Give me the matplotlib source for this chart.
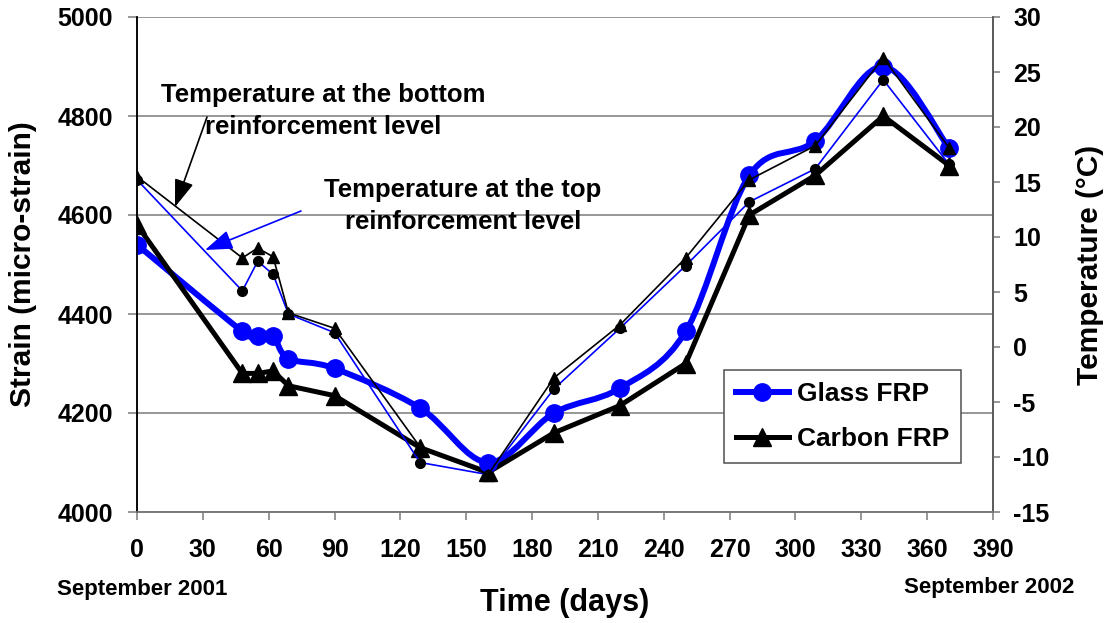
import matplotlib
matplotlib.use("Agg")
import matplotlib.pyplot as plt
from matplotlib.path import Path
from matplotlib.patches import PathPatch
from matplotlib.lines import Line2D
import numpy as np

plt.rcParams['font.family'] = ['Liberation Sans', 'DejaVu Sans']
plt.rcParams['font.weight'] = 'bold'
plt.rcParams['axes.unicode_minus'] = False

# ---- data ----
days = [0, 48, 55, 62, 69, 90, 129, 160, 190, 220, 250, 279, 309, 340, 370]
glass_frp = [4540, 4365, 4355, 4355, 4310, 4290, 4210, 4100, 4200, 4250, 4365, 4680, 4750, 4900, 4735]
carbon_frp = [4580, 4280, 4280, 4285, 4255, 4235, 4130, 4080, 4160, 4215, 4300, 4600, 4680, 4800, 4700]
temp_top = [15.2, 5.1, 7.8, 6.6, 3.0, 1.3, -10.5, -11.6, -3.8, 1.7, 7.4, 13.2, 16.2, 24.3, 16.6]
temp_bottom = [15.5, 8.1, 9.0, 8.2, 3.1, 1.7, -9.1, -11.6, -2.8, 2.0, 8.1, 15.2, 18.3, 26.3, 18.1]
x_ticks = list(range(0, 391, 30))
strain_ticks = [4000, 4200, 4400, 4600, 4800, 5000]
temp_ticks = list(range(-15, 31, 5))

W, H = 1111, 623
fig = plt.figure(figsize=(W / 100, H / 100), dpi=100)
L, R, T, B = 137, 993, 17, 512
ax = fig.add_axes([L / W, 1 - B / H, (R - L) / W, (B - T) / H])
ax2 = ax.twinx()

grid_c = '#7a7a7a'

# smoothed (Excel-like) path for Glass FRP
def smooth_path(xs, ys):
    xs = np.asarray(xs, float); ys = np.asarray(ys, float)
    n = len(xs)
    verts = [(xs[0], ys[0])]
    codes = [Path.MOVETO]
    for i in range(n - 1):
        p0 = np.array([xs[max(i - 1, 0)], ys[max(i - 1, 0)]])
        p1 = np.array([xs[i], ys[i]])
        p2 = np.array([xs[i + 1], ys[i + 1]])
        p3 = np.array([xs[min(i + 2, n - 1)], ys[min(i + 2, n - 1)]])
        c1 = p1 + (p2 - p0) / 6.0
        c2 = p2 - (p3 - p1) / 6.0
        verts += [tuple(c1), tuple(c2), tuple(p2)]
        codes += [Path.CURVE4] * 3
    return Path(verts, codes)

ax.add_patch(PathPatch(smooth_path(days, glass_frp), facecolor='none',
                       edgecolor='#0000ff', lw=4.3, zorder=3, capstyle='round', joinstyle='round'))
ax.plot(days, glass_frp, linestyle='none', marker='o', ms=12.5, color='#0000ff', zorder=4)
ax.plot(days, carbon_frp, color='black', lw=3.6, marker='^', ms=12.5, zorder=3)

ax2.plot(days, temp_top, color='#0000ff', lw=1.2, marker='o', ms=7, mfc='black', mec='black', zorder=3)
ax2.plot(days, temp_bottom, color='black', lw=1.2, marker='^', ms=8, zorder=3)

ax.set_xlim(0, 390)
ax.set_ylim(4000, 5000)
ax2.set_ylim(-15, 30)
ax.set_xticks(x_ticks)
ax.set_yticks(strain_ticks)
ax2.set_yticks(temp_ticks)

ax.set_axisbelow(True)
ax.yaxis.grid(True, color=grid_c, lw=1.1)
for a in (ax, ax2):
    a.spines['top'].set_visible(False)
    a.spines['bottom'].set_color(grid_c)
    a.spines['bottom'].set_linewidth(1.2)
    a.spines['right'].set_color('#555555')
    a.spines['right'].set_linewidth(1.1)
    a.spines['left'].set_color('black')
    a.spines['left'].set_linewidth(1.1)
    a.patch.set_visible(False)

ax.tick_params(axis='x', direction='out', length=6, width=1.1, color=grid_c, pad=13, labelsize=18)
ax.tick_params(axis='y', direction='out', length=6.5, width=1.1, color=grid_c, pad=11, labelsize=18)
ax2.tick_params(axis='y', direction='out', length=5, width=1.1, color=grid_c, pad=9.5, labelsize=18)
for lab in ax.get_xticklabels() + ax.get_yticklabels() + ax2.get_yticklabels():
    lab.set_fontweight('bold')

ax.set_ylabel('Strain (micro-strain)', fontsize=21.5, fontweight='bold')
ax.yaxis.label.set(ha='center', va='center')
ax.yaxis.set_label_coords((23 - L) / (R - L), 0.5)
ax2.set_ylabel('Temperature (°C)', fontsize=21.5, fontweight='bold', rotation=90)
ax2.yaxis.label.set(ha='center', va='center')
ax2.yaxis.set_label_coords((1090 - L) / (R - L), 0.5)
ax.set_xlabel('Time (days)', fontsize=22, fontweight='bold')
ax.xaxis.label.set(va='center')
ax.xaxis.set_label_coords(0.5, (B - 603) / (B - T))

def px(x, y):
    return (x / W, 1 - y / H)

fig.text(*px(142, 590), 'September 2001', ha='center', va='center', fontsize=16, fontweight='bold')
fig.text(*px(989, 588), 'September 2002', ha='center', va='center', fontsize=16, fontweight='bold')

fig.text(*px(323, 111), 'Temperature at the bottom\nreinforcement level', ha='center', va='center',
         fontsize=18.5, fontweight='bold', linespacing=1.4, multialignment='center')
fig.text(*px(463, 206), 'Temperature at the top\nreinforcement level', ha='center', va='center',
         fontsize=18.5, fontweight='bold', linespacing=1.4, multialignment='center')

# arrows (figure pixel coordinates)
ax2.annotate('', xy=px(175, 207), xytext=px(207, 117), xycoords='figure fraction',
             textcoords='figure fraction',
             arrowprops=dict(arrowstyle='-|>,head_length=0.85,head_width=0.3', color='black',
                             lw=1.2, mutation_scale=20, shrinkA=0, shrinkB=0))
ax2.annotate('', xy=px(205, 250), xytext=px(301, 211), xycoords='figure fraction',
             textcoords='figure fraction',
             arrowprops=dict(arrowstyle='-|>,head_length=0.85,head_width=0.3', color='#0000ff',
                             lw=1.2, mutation_scale=20, shrinkA=0, shrinkB=0))

handles = [Line2D([], [], color='#0000ff', lw=4.3, marker='o', ms=12.5),
           Line2D([], [], color='black', lw=3.6, marker='^', ms=12.5)]
leg = ax2.legend(handles, ['Glass FRP', 'Carbon FRP'], loc='upper left',
                 bbox_to_anchor=px(724, 370), bbox_transform=fig.transFigure,
                 borderaxespad=0, fancybox=False, framealpha=1, edgecolor='#505050',
                 numpoints=1, handlelength=2.0, handletextpad=0.3, labelspacing=0.8,
                 borderpad=0.45, prop={'size': 19, 'weight': 'bold'})
leg.get_frame().set_linewidth(1.1)
leg.set_zorder(10)

fig.savefig('out.png', dpi=100)
